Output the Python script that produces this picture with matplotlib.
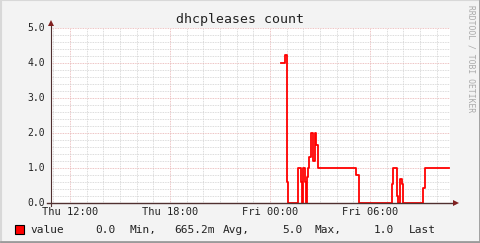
import matplotlib
matplotlib.use("Agg")
import matplotlib.pyplot as plt
from matplotlib.lines import Line2D
from matplotlib.patches import Rectangle

# step changes, time on Friday (HH:MM) and the value from that moment on
times = ["00:40", "00:54", "01:01", "01:05", "01:42", "01:50", "01:54", "01:58",
         "02:05", "02:08", "02:12", "02:15", "02:22", "02:29", "02:36", "02:43",
         "02:47", "02:52", "05:08", "05:20", "07:19", "07:24", "07:38", "07:42",
         "07:48", "07:54", "07:58", "09:12", "09:18", "10:45"]
values = [4.0, 4.23, 0.6, 0.0, 1.0, 0.6, 0.0, 1.0,
          0.6, 0.0, 0.75, 1.0, 1.3, 2.0, 1.2, 2.0,
          1.65, 1.0, 0.8, 0.0, 0.53, 1.0, 0.2, 0.0,
          0.68, 0.54, 0.0, 0.42, 1.0, 1.0]

tick_hours = [-12, -6, 0, 6]
tick_labels = ["Thu 12:00", "Thu 18:00", "Fri 00:00", "Fri 06:00"]
y_ticks = [0, 1, 2, 3, 4, 5]
title = "dhcpleases count"
legend_parts = ["value", "0.0", "Min,", "665.2m", "Avg,", "5.0", "Max,", "1.0", "Last"]
legend_x = [30, 95, 130, 174, 223, 282, 315, 374, 409]

W, H = 481, 243
hours = [int(t[:2]) + int(t[3:]) / 60 for t in times]

fig = plt.figure(figsize=(W / 100, H / 100), dpi=100, facecolor="#f3f3f3")
mono = "DejaVu Sans Mono"

x0, x1, ytop, ybot = 51, 450, 28, 203
ax = fig.add_axes([x0 / W, (H - ybot) / H, (x1 - x0) / W, (ybot - ytop) / H])
ax.set_facecolor("white")
ax.set_xlim(-13.14, 10.8)
ax.set_ylim(0, 5)
for s in ax.spines.values():
    s.set_visible(False)
ax.set_xticks([])
ax.set_yticks([])

# grid
minor_c, major_c = "#d0d0d0", "#e8b0b0"
h = -13
while h <= 10:
    c = major_c if h % 6 == 0 else minor_c
    ax.axvline(h, color=c, lw=0.6, ls=(0, (1, 1)), zorder=1)
    h += 1
for i in range(1, 26):
    v = i * 0.2
    c = major_c if i % 5 == 0 else minor_c
    ax.axhline(v, color=c, lw=0.6, ls=(0, (1, 1)), zorder=1)

ax.step(hours, values, where="post", color="#ff0000", lw=1.3, zorder=3)


def fx(px):
    return px / W


def fy(py):
    return 1 - py / H


# axes with arrows, drawn over the data like rrdtool does
axis_c, arrow_c = "#503030", "#802020"
fig.add_artist(Line2D([fx(47), fx(455)], [fy(203), fy(203)], color=axis_c, lw=1.0))
fig.add_artist(Line2D([fx(51), fx(51)], [fy(206), fy(24)], color=axis_c, lw=0.8))
fig.add_artist(Line2D([fx(456)], [fy(203)], marker=">", color=arrow_c, ms=4, mew=0))
fig.add_artist(Line2D([fx(51)], [fy(23)], marker="^", color=arrow_c, ms=4, mew=0))

# tick labels
for v in y_ticks:
    py = ybot - v * 35
    fig.text(fx(45), fy(py), f"{v:.1f}", ha="right", va="center",
             family=mono, fontsize=7, color="#222222")
for hr, lab in zip(tick_hours, tick_labels):
    px = 270 + hr * 100 / 6
    fig.text(fx(px), fy(212), lab, ha="center", va="center",
             family=mono, fontsize=7.5, color="#222222")

fig.text(fx(240), fy(19), title, ha="center", va="center",
         family=mono, fontsize=9.5, color="#222222")
fig.text(fx(471), fy(5), "RRDTOOL / TOBI OETIKER", ha="center", va="top",
         rotation=270, family=mono, fontsize=5.8, color="#aaaaaa")

# legend
fig.add_artist(Rectangle((fx(15), fy(234)), 9 / W, 9.5 / H, facecolor="#ff0000",
                         edgecolor="black", lw=0.8))
for px, part in zip(legend_x, legend_parts):
    fig.text(fx(px), fy(229.5), part, ha="left", va="center",
             family=mono, fontsize=8, color="#222222")

# frame
fig.add_artist(Line2D([fx(0.5), fx(0.5), fx(480)], [fy(242), fy(0.5), fy(0.5)],
                      color="#d8d8d8", lw=1.5))
fig.add_artist(Line2D([fx(1), fx(480), fx(480)], [fy(241.8), fy(241.8), fy(1)],
                      color="#9a9a9a", lw=2))

fig.savefig("out.png", dpi=100, facecolor=fig.get_facecolor())
